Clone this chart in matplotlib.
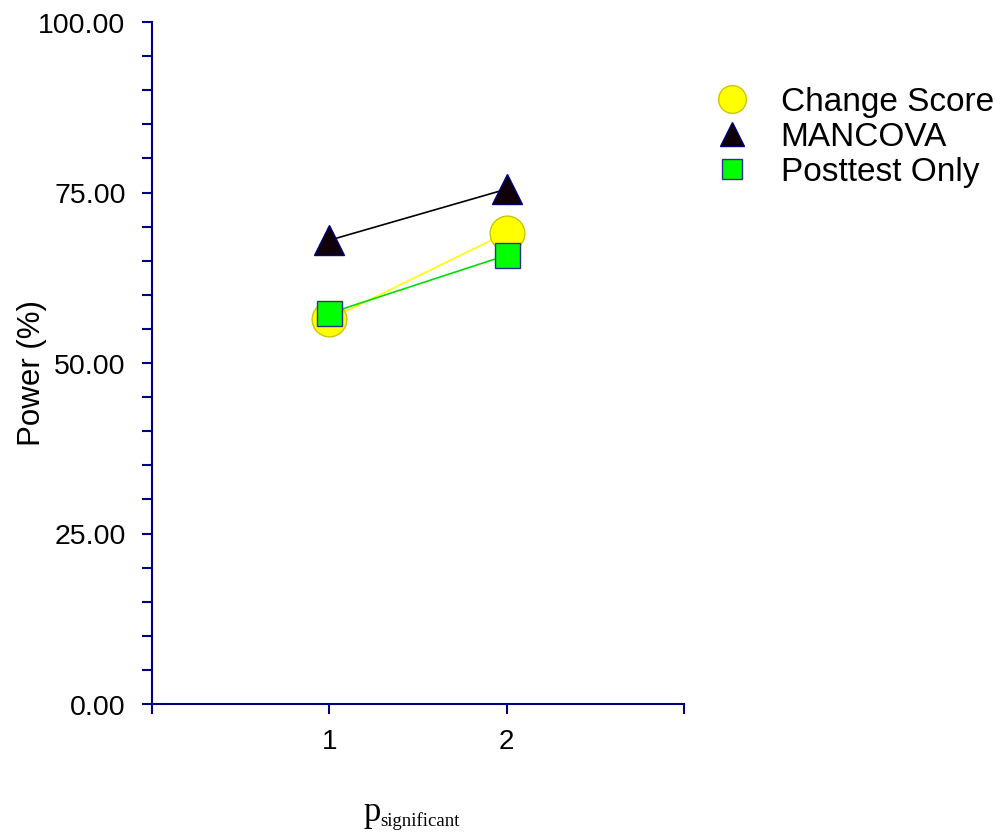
import matplotlib
matplotlib.use("Agg")
import matplotlib.pyplot as plt
from matplotlib.lines import Line2D
from matplotlib.ticker import MultipleLocator, FormatStrFormatter

# ---- data ----
x_values = [1, 2]
change_score = [56.4, 69.1]
mancova = [68.0, 75.5]
posttest_only = [57.3, 65.8]
series_names = ["Change Score", "MANCOVA", "Posttest Only"]
y_major_ticks = [0, 25, 50, 75, 100]
x_ticks = [1, 2]

plt.rcParams['font.family'] = ['Liberation Sans', 'DejaVu Sans']

navy = '#000080'
W, H = 1006, 837

fig = plt.figure(figsize=(W/100, H/100), dpi=100)
ax = fig.add_axes([152/W, 1-705/H, 532/W, 682/H])

styles = [
    dict(marker='o', ms=25, mfc='#FFFF00', mec='#C8C800', color='#FFFF00'),
    dict(marker='^', ms=21, mfc='#100008', mec=navy, color='#000000'),
    dict(marker='s', ms=18, mfc='#00FF00', mec='#303090', color='#00E000'),
]
data = [change_score, mancova, posttest_only]
for vals, st in zip(data, styles):
    ax.plot(x_values, vals, lw=1.2, mew=1.0, clip_on=False, **st)

ax.set_xlim(0, 3)
ax.set_ylim(0, 100)
ax.set_xticks(x_ticks)
ax.set_xticks([0, 3], minor=True)
ax.set_yticks(y_major_ticks)
ax.yaxis.set_minor_locator(MultipleLocator(5))
ax.yaxis.set_major_formatter(FormatStrFormatter('%.2f'))

for s in ['top', 'right']:
    ax.spines[s].set_visible(False)
for s in ['left', 'bottom']:
    ax.spines[s].set_color(navy)
    ax.spines[s].set_linewidth(1.5)

ax.tick_params(axis='both', which='both', direction='out', length=7, width=1.5, color=navy)
ax.tick_params(axis='y', which='major', labelsize=20.5, pad=12)
ax.tick_params(axis='x', which='major', labelsize=20, pad=10)

ax.set_ylabel('Power (%)', fontsize=22.5)
ax.yaxis.set_label_coords((47-152)/532, (705-373)/682)

# x label: serif "p" with subscript "significant"
fig.text(364/W, 1-821/H, 'p', family='Liberation Serif', fontsize=25,
         ha='left', va='baseline')
fig.text(380/W, 1-826/H, 'significant', family='Liberation Serif', fontsize=13.5,
         ha='left', va='baseline')

handles = [Line2D([], [], linestyle='none', marker=st['marker'], ms=st['ms']*0.8,
                  mfc=st['mfc'], mec=st['mec'], mew=1.0) for st in styles]
fig.legend(handles, series_names, loc='upper left', bbox_to_anchor=(694/W, 1-74/H),
           frameon=False, fontsize=24, handletextpad=0.7, labelspacing=0.12,
           borderaxespad=0, handlelength=1.5)

fig.savefig('out.png', dpi=100)
